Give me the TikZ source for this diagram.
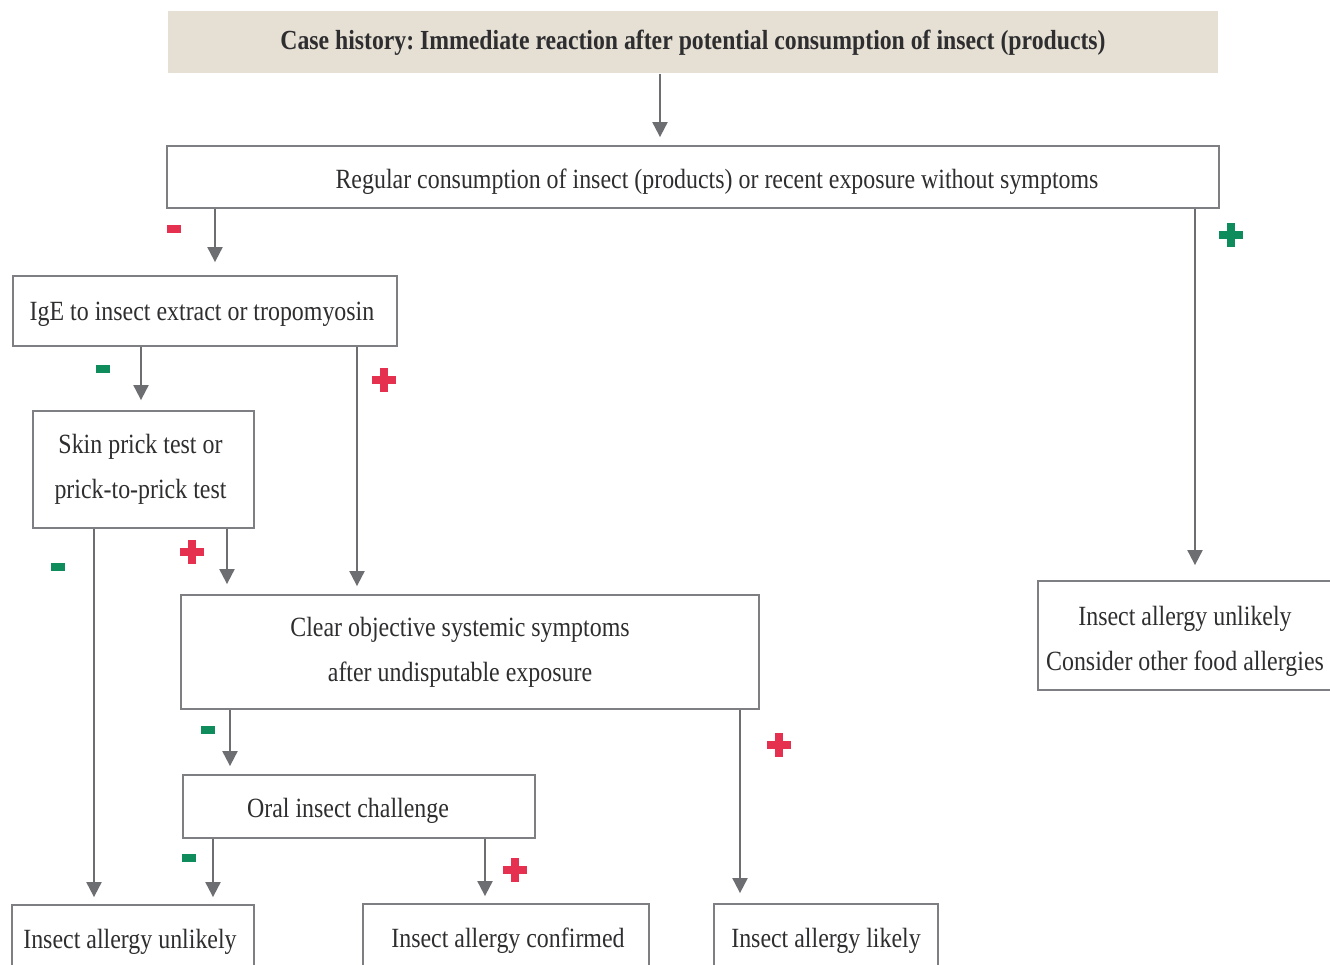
\documentclass[tikz,border=0pt]{standalone}
\usepackage{fontspec}
\setmainfont{Liberation Serif}[FakeStretch=0.86]
\usetikzlibrary{arrows.meta}
\frenchspacing
\definecolor{linegray}{HTML}{6D6E71}
\definecolor{boxgray}{HTML}{7E7F82}
\definecolor{beige}{HTML}{E6E0D4}
\definecolor{txt}{HTML}{2E2E30}
\definecolor{pred}{HTML}{E5304F}
\definecolor{mgreen}{HTML}{0E8C5B}
\newcommand\lowtext[2]{\raisebox{-#1}[\height][\depth]{#2}}
\tikzset{
  box/.style={draw=boxgray, line width=1.8pt, rectangle, inner sep=0pt, text=txt,
    font=\fontsize{27.8}{45}\selectfont, align=center},
  titlebox/.style={fill=beige, rectangle, inner sep=0pt, text=txt,
    font=\fontsize{27.6}{30}\selectfont\bfseries},
  arr/.style={draw=linegray, line width=2pt, -{Triangle[width=15pt,length=15pt]}, shorten >=8pt},
  plusmark/.pic={\fill (-12,-4.2) rectangle (12,4.2); \fill (-4.2,-12) rectangle (4.2,12);},
  minusmark/.pic={\fill (-6.8,-4) rectangle (6.8,4);}
}
\begin{document}
\begin{tikzpicture}[x=1pt,y=-1pt]
\clip (0,0) rectangle (1330,965);
\fill[white] (0,0) rectangle (1330,965);
% nodes
\node[titlebox, minimum width=1050, minimum height=62] (t) at (693,42.5) {Case history: Immediate reaction after potential consumption of insect (products)};
\node[box, minimum width=1052, minimum height=62] (b2) at (693,177) {\hspace*{48pt}\lowtext{5pt}{Regular consumption of insect (products) or recent exposure without symptoms}};
\node[box, minimum width=384, minimum height=70] (ige) at (205,311) {\lowtext{3pt}{IgE to insect extract or tropomyosin}\hspace*{6pt}};
\node[box, minimum width=221, minimum height=117] (spt) at (143.5,469.5) {Skin prick test or\hspace*{6pt}\\prick-to-prick test\hspace*{6pt}};
\node[box, minimum width=578, minimum height=114] (clr) at (470,652) {Clear objective systemic symptoms\hspace*{20pt}\\after undisputable exposure\hspace*{20pt}};
\node[box, minimum width=352, minimum height=63] (oral) at (359,806.5) {\lowtext{4pt}{Oral insect challenge}\hspace*{22pt}};
\node[box, minimum width=294, minimum height=109] (ru) at (1185,635.5) {\lowtext{6pt}{Insect allergy unlikely}\\\lowtext{6pt}{Consider other food allergies}};
\node[box, minimum width=242, minimum height=68] (bu) at (133,939) {\lowtext{3pt}{Insect allergy unlikely}\hspace*{6pt}};
\node[box, minimum width=286, minimum height=68] (bc) at (506,938) {\hspace*{4pt}\lowtext{3pt}{Insect allergy confirmed}};
\node[box, minimum width=224, minimum height=68] (bl) at (826,938) {\lowtext{3pt}{Insect allergy likely}};
% x positions of connectors
\coordinate (x660) at (660,0);
\coordinate (x215) at (215,0);
\coordinate (x1195) at (1195,0);
\coordinate (x141) at (141,0);
\coordinate (x357) at (357,0);
\coordinate (x227) at (227,0);
\coordinate (x94) at (94,0);
\coordinate (x230) at (230,0);
\coordinate (x740) at (740,0);
\coordinate (x213) at (213,0);
\coordinate (x485) at (485,0);
% connectors
\draw[arr] (t.south -| x660) -- (b2.north -| x660);
\draw[arr, shorten >=13pt] (b2.south -| x215) -- (ige.north -| x215);
\draw[arr, shorten >=15pt] (b2.south -| x1195) -- (ru.north -| x1195);
\draw[arr, shorten >=10pt] (ige.south -| x141) -- (spt.north -| x141);
\draw[arr] (ige.south -| x357) -- (clr.north -| x357);
\draw[arr, shorten >=10pt] (spt.south -| x227) -- (clr.north -| x227);
\draw[arr, shorten >=7pt] (spt.south -| x94) -- (bu.north -| x94);
\draw[arr] (clr.south -| x230) -- (oral.north -| x230);
\draw[arr, shorten >=10pt] (clr.south -| x740) -- (bl.north -| x740);
\draw[arr, shorten >=7pt] (oral.south -| x213) -- (bu.north -| x213);
\draw[arr, shorten >=7pt] (oral.south -| x485) -- (bc.north -| x485);
% signs
\pic[pred] at (174,229) {minusmark};
\pic[mgreen] at (1231,235) {plusmark};
\pic[mgreen] at (103,369) {minusmark};
\pic[pred] at (384,380) {plusmark};
\pic[pred] at (192,552) {plusmark};
\pic[mgreen] at (58,567) {minusmark};
\pic[mgreen] at (208,730) {minusmark};
\pic[pred] at (779,745) {plusmark};
\pic[mgreen] at (189,858) {minusmark};
\pic[pred] at (515,870) {plusmark};
\end{tikzpicture}
\end{document}
